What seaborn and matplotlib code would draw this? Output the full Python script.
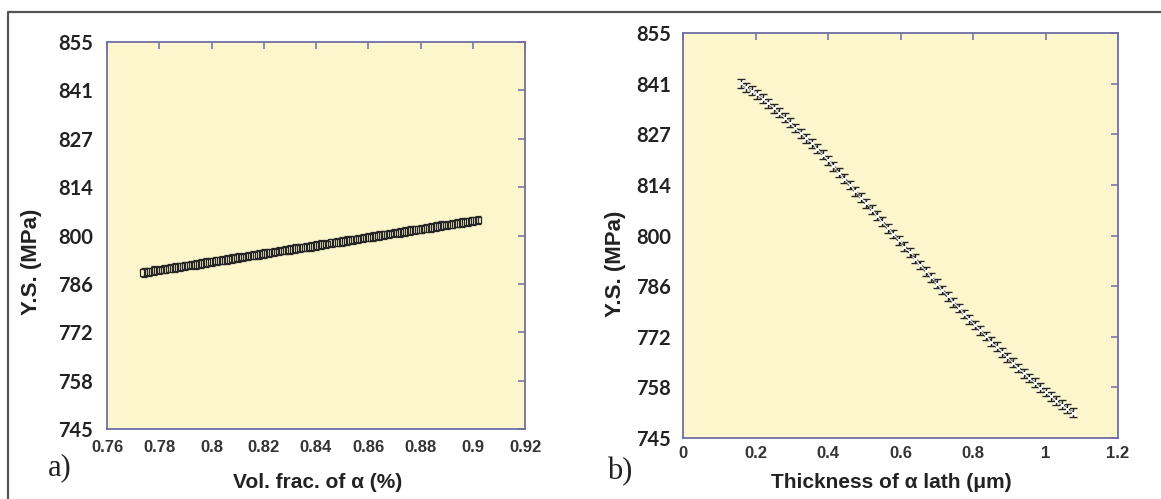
import numpy as np
import pandas as pd
import matplotlib
matplotlib.use("Agg")
import matplotlib.pyplot as plt
from matplotlib.lines import Line2D
import seaborn as sns

# ---------------- data ----------------
vol_frac = [0.774, 0.776, 0.778, 0.780, 0.782, 0.784, 0.786, 0.788, 0.790, 0.792,
            0.794, 0.796, 0.798, 0.800, 0.802, 0.804, 0.806, 0.808, 0.810, 0.812,
            0.814, 0.816, 0.818, 0.820, 0.822, 0.824, 0.826, 0.828, 0.830, 0.832,
            0.834, 0.836, 0.838, 0.840, 0.842, 0.844, 0.846, 0.848, 0.850, 0.852,
            0.854, 0.856, 0.858, 0.860, 0.862, 0.864, 0.866, 0.868, 0.870, 0.872,
            0.874, 0.876, 0.878, 0.880, 0.882, 0.884, 0.886, 0.888, 0.890, 0.892,
            0.894, 0.896, 0.898, 0.900, 0.902]
ys_vol = [789.5, 789.7, 790.0, 790.2, 790.4, 790.7, 790.9, 791.1, 791.4, 791.6,
          791.8, 792.1, 792.3, 792.5, 792.8, 793.0, 793.2, 793.5, 793.7, 793.9,
          794.2, 794.4, 794.6, 794.9, 795.1, 795.3, 795.6, 795.8, 796.0, 796.3,
          796.5, 796.7, 796.9, 797.2, 797.4, 797.6, 797.9, 798.1, 798.3, 798.6,
          798.8, 799.0, 799.3, 799.5, 799.7, 800.0, 800.2, 800.4, 800.7, 800.9,
          801.1, 801.4, 801.6, 801.8, 802.1, 802.3, 802.5, 802.8, 803.0, 803.2,
          803.5, 803.7, 803.9, 804.2, 804.4]
err_vol = 1.2

thickness = [0.160, 0.175, 0.190, 0.205, 0.220, 0.235, 0.250, 0.265, 0.280, 0.295,
             0.310, 0.325, 0.340, 0.355, 0.370, 0.385, 0.400, 0.415, 0.430, 0.445,
             0.460, 0.475, 0.490, 0.505, 0.520, 0.535, 0.550, 0.565, 0.580, 0.595,
             0.610, 0.625, 0.640, 0.655, 0.670, 0.685, 0.700, 0.715, 0.730, 0.745,
             0.760, 0.775, 0.790, 0.805, 0.820, 0.835, 0.850, 0.865, 0.880, 0.895,
             0.910, 0.925, 0.940, 0.955, 0.970, 0.985, 1.000, 1.015, 1.030, 1.045,
             1.060, 1.075]
ys_thk = [841.3, 840.3, 839.3, 838.3, 837.1, 835.9, 834.6, 833.3, 832.0, 830.6,
          829.2, 827.8, 826.4, 825.0, 823.6, 822.0, 820.4, 818.8, 817.1, 815.4,
          813.7, 812.0, 810.3, 808.7, 807.0, 805.4, 803.7, 802.0, 800.4, 798.7,
          797.0, 795.4, 793.7, 792.0, 790.3, 788.6, 786.9, 785.2, 783.5, 781.9,
          780.3, 778.7, 777.2, 775.7, 774.2, 772.7, 771.2, 769.8, 768.3, 766.9,
          765.4, 764.0, 762.6, 761.3, 760.0, 758.7, 757.5, 756.3, 755.1, 754.0,
          752.9, 751.9]
err_thk = 1.2

y_ticks = [745, 758.75, 772.5, 786.25, 800, 813.75, 827.5, 841.25, 855]
y_tick_labels = ["745", "758", "772", "786", "800", "814", "827", "841", "855"]
xa_ticks = [0.76, 0.78, 0.80, 0.82, 0.84, 0.86, 0.88, 0.90, 0.92]
xa_tick_labels = ["0.76", "0.78", "0.8", "0.82", "0.84", "0.86", "0.88", "0.9", "0.92"]
xb_ticks = [0, 0.2, 0.4, 0.6, 0.8, 1.0, 1.2]
xb_tick_labels = ["0", "0.2", "0.4", "0.6", "0.8", "1", "1.2"]

df_a = pd.DataFrame({"x": vol_frac, "y": ys_vol})
df_b = pd.DataFrame({"x": thickness, "y": ys_thk})

# ---------------- style ----------------
sns.set_theme(style="white")
plt.rcParams["font.family"] = ["Liberation Sans", "DejaVu Sans"]

BG = "#FCF6CD"
SPINE = "#6E6EA6"
INK = "#262626"

fig = plt.figure(figsize=(11.61, 4.99), dpi=100)
fig.patch.set_facecolor("white")

ax_a = fig.add_axes([107 / 1161, 1 - 429 / 499, 418 / 1161, 387 / 499])
ax_b = fig.add_axes([683 / 1161, 1 - 438 / 499, 435 / 1161, 405 / 499])

# panel a
ax_a.errorbar(df_a["x"], df_a["y"], yerr=err_vol, fmt="none", ecolor=INK,
              elinewidth=0.9, capsize=2.4, capthick=0.9, zorder=2)
sns.scatterplot(data=df_a, x="x", y="y", ax=ax_a, marker="s", s=24,
                facecolor="none", edgecolor=INK, linewidth=0.9, zorder=3)

# panel b
ax_b.errorbar(df_b["x"], df_b["y"], yerr=err_thk, fmt="none", ecolor=INK,
              elinewidth=1.0, capsize=3.0, capthick=1.0, zorder=2)
sns.lineplot(data=df_b, x="x", y="y", ax=ax_b, color="#111111", linewidth=1.8,
             marker="x", markersize=5, markeredgewidth=1.0, zorder=3)

for ax, xt, xtl, xlim, ypad, xpad in [
    (ax_a, xa_ticks, xa_tick_labels, (0.76, 0.92), 10, 8),
    (ax_b, xb_ticks, xb_tick_labels, (0.0, 1.2), 8.5, 6),
]:
    ax.set_facecolor(BG)
    ax.set_xlim(*xlim)
    ax.set_ylim(745, 855)
    ax.set_xticks(xt)
    ax.set_xticklabels(xtl, fontsize=12, fontweight="bold", color="#333333",
                       family="Liberation Sans")
    ax.set_yticks(y_ticks)
    ax.set_yticklabels(y_tick_labels, fontsize=14.5, fontweight="bold", color="#222222",
                       family="Lato")
    ax.set_xlabel("")
    ax.set_ylabel("")
    ax.tick_params(axis="both", direction="in", top=True, right=True,
                   length=5, width=1.1, color=SPINE)
    ax.tick_params(axis="y", pad=ypad)
    ax.tick_params(axis="x", pad=xpad)
    for sp in ax.spines.values():
        sp.set_visible(True)
        sp.set_color(SPINE)
        sp.set_linewidth(1.3)
    ax.grid(False)

# axis labels placed as figure text
fig.text(32 / 1161, 1 - 262 / 499, "Y.S. (MPa)", rotation=90, ha="center", va="center",
         fontsize=16, fontweight="bold", color="#222222")
fig.text(615 / 1161, 1 - 264 / 499, "Y.S. (MPa)", rotation=90, ha="center", va="center",
         fontsize=16, fontweight="bold", color="#222222")
fig.text(318 / 1161, 1 - 482 / 499, "Vol. frac. of α (%)", ha="center", va="center",
         fontsize=15, fontweight="bold", color="#222222")
fig.text(891 / 1161, 1 - 482 / 499, "Thickness of α lath (μm)", ha="center", va="center",
         fontsize=15, fontweight="bold", color="#222222")

# panel letters
fig.text(48 / 1161, 1 - 468 / 499, "a)", ha="left", va="center", fontsize=22,
         family="Liberation Serif", color="#222222")
fig.text(607 / 1161, 1 - 472 / 499, "b)", ha="left", va="center", fontsize=22,
         family="Liberation Serif", color="#222222")

# outer frame (left and top edges)
fig.add_artist(Line2D([8 / 1161, 8 / 1161, 1.0], [0.0, 1 - 12 / 499, 1 - 12 / 499],
                      transform=fig.transFigure, color="#555555", linewidth=1.6))

fig.savefig("out.png", dpi=100, facecolor="white")
